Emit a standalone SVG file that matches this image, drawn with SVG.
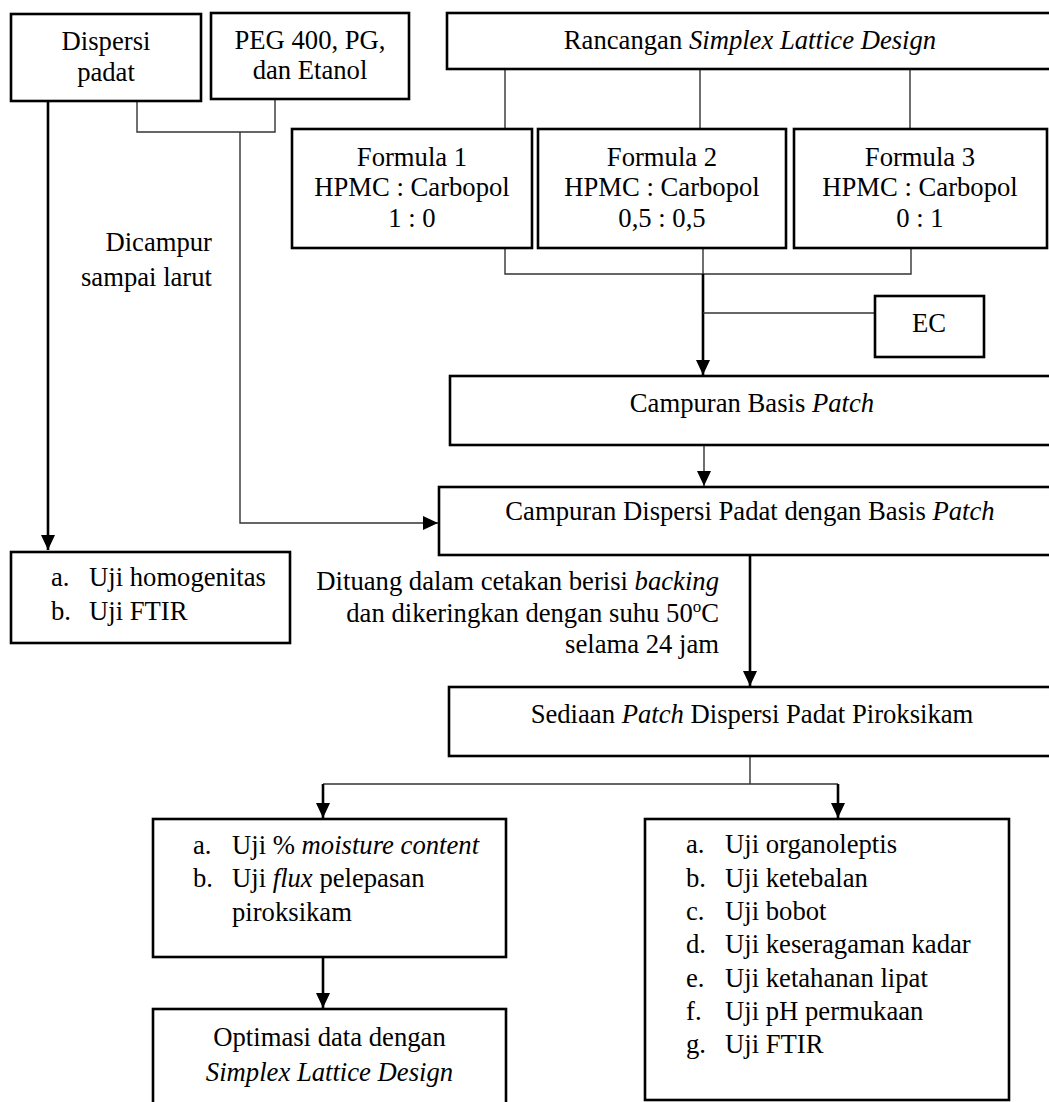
<svg xmlns="http://www.w3.org/2000/svg" width="1049" height="1102" viewBox="0 0 1049 1102">
<style>
  .box { fill: #ffffff; stroke: #000000; stroke-width: 2.6; }
  .thin { fill: none; stroke: #333333; stroke-width: 1.4; }
  .thick { fill: none; stroke: #000000; stroke-width: 2.6; }
  text { font-family: "Liberation Serif", "Times New Roman", serif; font-size: 26.67px; fill: #000000; }
  .c { text-anchor: middle; }
  .r { text-anchor: end; }
  .i { font-style: italic; }
</style>
<defs>
  <marker id="arr" markerUnits="userSpaceOnUse" markerWidth="16" markerHeight="16" refX="15" refY="7" orient="auto">
    <path d="M0,0 L15,7 L0,14 z" fill="#000000"/>
  </marker>
</defs>
<rect x="0" y="0" width="1049" height="1102" fill="#ffffff"/>

<g id="connectors">
  <path class="thick" d="M48,101 V550" marker-end="url(#arr)"/>
  <path class="thin" d="M137,101 V132 H275 V99"/>
  <path class="thin" d="M240,132 V523 H438" marker-end="url(#arr)"/>
  <path class="thin" d="M505,69 V129 M700,69 V129 M910,69 V129"/>
  <path class="thin" d="M505,248 V274 H911 V248 M703,248 V274"/>
  <path class="thick" d="M703,274 V375" marker-end="url(#arr)"/>
  <path class="thin" d="M703,313 H875"/>
  <path class="thin" d="M704,445 V486" marker-end="url(#arr)"/>
  <path class="thick" d="M750,555 V686" marker-end="url(#arr)"/>
  <path class="thin" d="M750,756 V784 M323,784 H838"/>
  <path class="thick" d="M323,784 V818" marker-end="url(#arr)"/>
  <path class="thick" d="M838,784 V818" marker-end="url(#arr)"/>
  <path class="thick" d="M323,957 V1008" marker-end="url(#arr)"/>
</g>

<g id="label-dicampur">
  <text class="r" x="212" y="251">Dicampur</text>
  <text class="r" x="212" y="286">sampai larut</text>
</g>

<g id="label-dituang">
  <text class="r" x="719" y="590">Dituang dalam cetakan berisi <tspan class="i">backing</tspan></text>
  <text class="r" x="719" y="622">dan dikeringkan dengan suhu 50<tspan font-size="17" dy="-10">o</tspan><tspan dy="10">C</tspan></text>
  <text class="r" x="719" y="653">selama 24 jam</text>
</g>

<g id="node-dispersi">
  <rect class="box" x="11" y="14" width="190" height="87"/>
  <text class="c" x="106" y="50">Dispersi</text>
  <text class="c" x="106" y="81">padat</text>
</g>

<g id="node-peg">
  <rect class="box" x="211" y="13" width="198" height="86"/>
  <text class="c" x="310" y="49">PEG 400, PG,</text>
  <text class="c" x="310" y="79">dan Etanol</text>
</g>

<g id="node-rancangan">
  <rect class="box" x="447" y="13" width="620" height="56"/>
  <text class="c" x="750" y="49">Rancangan <tspan class="i">Simplex Lattice Design</tspan></text>
</g>

<g id="node-formula1">
  <rect class="box" x="292" y="129" width="240" height="119"/>
  <text class="c" x="412" y="166">Formula 1</text>
  <text class="c" x="412" y="196">HPMC : Carbopol</text>
  <text class="c" x="412" y="227">1 : 0</text>
</g>

<g id="node-formula2">
  <rect class="box" x="538" y="129" width="248" height="119"/>
  <text class="c" x="662" y="166">Formula 2</text>
  <text class="c" x="662" y="196">HPMC : Carbopol</text>
  <text class="c" x="662" y="227">0,5 : 0,5</text>
</g>

<g id="node-formula3">
  <rect class="box" x="794" y="129" width="253" height="119"/>
  <text class="c" x="920" y="166">Formula 3</text>
  <text class="c" x="920" y="196">HPMC : Carbopol</text>
  <text class="c" x="920" y="227">0 : 1</text>
</g>

<g id="node-ec">
  <rect class="box" x="875" y="296" width="109" height="61"/>
  <text class="c" x="929" y="332">EC</text>
</g>

<g id="node-basis">
  <rect class="box" x="450" y="376" width="620" height="69"/>
  <text class="c" x="752" y="412">Campuran Basis <tspan class="i">Patch</tspan></text>
</g>

<g id="node-campuran-dispersi">
  <rect class="box" x="439" y="487" width="630" height="68"/>
  <text class="c" x="750" y="520">Campuran Dispersi Padat dengan Basis <tspan class="i">Patch</tspan></text>
</g>

<g id="node-uji-homogenitas">
  <rect class="box" x="11" y="552" width="279" height="91"/>
  <text x="51" y="586">a.</text>
  <text x="89" y="586">Uji homogenitas</text>
  <text x="51" y="620">b.</text>
  <text x="89" y="620">Uji FTIR</text>
</g>

<g id="node-sediaan">
  <rect class="box" x="449" y="687" width="620" height="69"/>
  <text class="c" x="752" y="723">Sediaan <tspan class="i">Patch</tspan> Dispersi Padat Piroksikam</text>
</g>

<g id="node-uji-moisture">
  <rect class="box" x="153" y="819" width="353" height="138"/>
  <text x="193" y="854">a.</text>
  <text x="232" y="854">Uji % <tspan class="i">moisture content</tspan></text>
  <text x="193" y="887">b.</text>
  <text x="232" y="887">Uji <tspan class="i">flux</tspan> pelepasan</text>
  <text x="232" y="921">piroksikam</text>
</g>

<g id="node-optimasi">
  <rect class="box" x="153" y="1009" width="353" height="110"/>
  <text class="c" x="329.5" y="1046">Optimasi data dengan</text>
  <text class="c i" x="329.5" y="1081">Simplex Lattice Design</text>
</g>

<g id="node-uji-list">
  <rect class="box" x="645" y="819" width="364" height="281"/>
  <text x="686" y="853">a.</text><text x="725" y="853">Uji organoleptis</text>
  <text x="686" y="887">b.</text><text x="725" y="887">Uji ketebalan</text>
  <text x="686" y="920">c.</text><text x="725" y="920">Uji bobot</text>
  <text x="686" y="953">d.</text><text x="725" y="953">Uji keseragaman kadar</text>
  <text x="686" y="987">e.</text><text x="725" y="987">Uji ketahanan lipat</text>
  <text x="686" y="1020">f.</text><text x="725" y="1020">Uji pH permukaan</text>
  <text x="686" y="1053">g.</text><text x="725" y="1053">Uji FTIR</text>
</g>
</svg>
